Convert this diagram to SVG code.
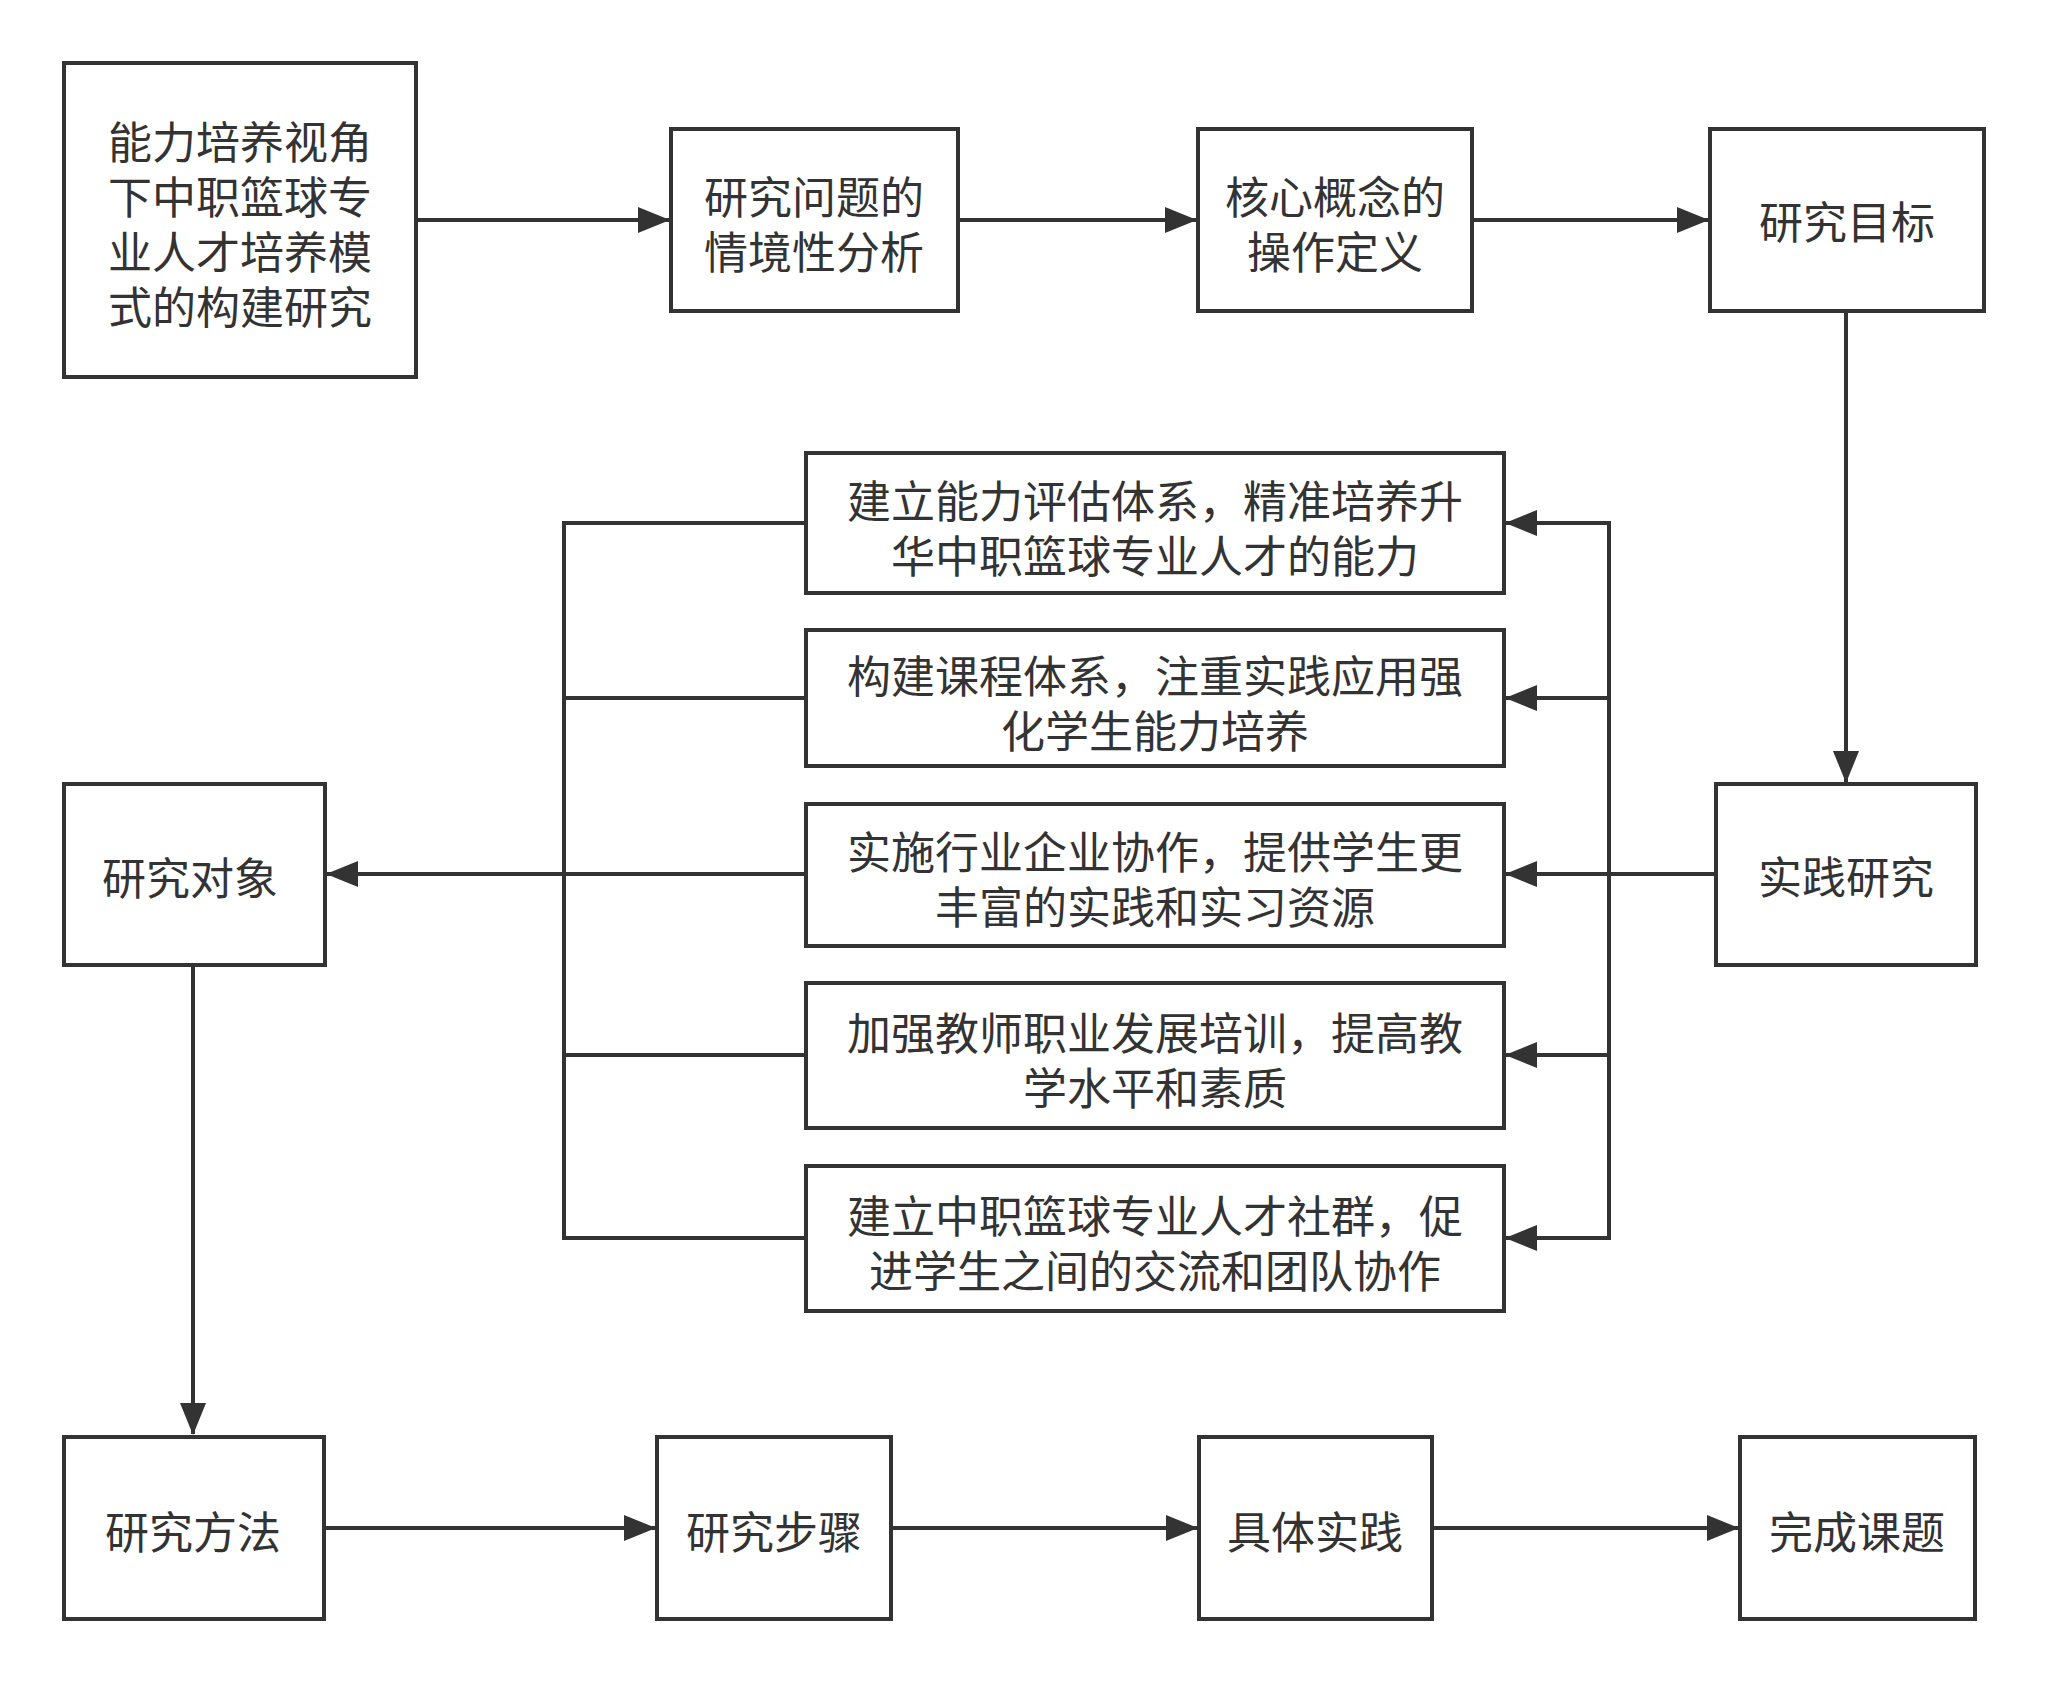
<svg xmlns="http://www.w3.org/2000/svg" width="2048" height="1683" viewBox="0 0 2048 1683">
<style>
.box{fill:#ffffff;stroke:#333333;stroke-width:4}
.t{font-family:"Liberation Sans","Noto Sans CJK SC",sans-serif;font-size:44px;fill:#333333;text-anchor:middle}
.c{fill:none;stroke:#333333;stroke-width:4;stroke-linejoin:miter}
.a{marker-end:url(#arr)}
</style>
<defs>
<marker id="arr" markerUnits="userSpaceOnUse" markerWidth="32" markerHeight="26" refX="31" refY="13" orient="auto">
<path d="M0,0 L32,13 L0,26 Z" fill="#333333"/>
</marker>
</defs>
<rect width="2048" height="1683" fill="#ffffff"/>
<g id="connectors">
<path class="c a" d="M416,220 H669"/>
<path class="c a" d="M958,220 H1196"/>
<path class="c a" d="M1472,220 H1708"/>
<path class="c a" d="M1846,312 V782"/>
<path class="c a" d="M1716,874 H1609 V523 H1506"/>
<path class="c a" d="M1716,874 H1609 V698 H1506"/>
<path class="c a" d="M1716,874 H1506"/>
<path class="c a" d="M1716,874 H1609 V1055 H1506"/>
<path class="c a" d="M1716,874 H1609 V1238 H1506"/>
<path class="c a" d="M806,523 H564 V874 H327"/>
<path class="c" d="M806,698 H564"/>
<path class="c" d="M806,874 H564"/>
<path class="c" d="M806,1055 H564"/>
<path class="c" d="M806,1238 H564 V523"/>
<path class="c a" d="M193,966 V1434"/>
<path class="c a" d="M324,1528 H655"/>
<path class="c a" d="M891,1528 H1197"/>
<path class="c a" d="M1432,1528 H1738"/>
</g>
<g id="n1"><rect class="box" x="64" y="63" width="352" height="314"/>
<text class="t" x="240" y="159">能力培养视角</text><text class="t" x="240" y="214">下中职篮球专</text><text class="t" x="240" y="269">业人才培养模</text><text class="t" x="240" y="324">式的构建研究</text></g>
<g id="n2"><rect class="box" x="671" y="129" width="287" height="182"/>
<text class="t" x="814" y="214">研究问题的</text><text class="t" x="814" y="269">情境性分析</text></g>
<g id="n3"><rect class="box" x="1198" y="129" width="274" height="182"/>
<text class="t" x="1335" y="214">核心概念的</text><text class="t" x="1335" y="269">操作定义</text></g>
<g id="n4"><rect class="box" x="1710" y="129" width="274" height="182"/>
<text class="t" x="1847" y="239">研究目标</text></g>
<g id="n5"><rect class="box" x="1716" y="784" width="260" height="181"/>
<text class="t" x="1846" y="894">实践研究</text></g>
<g id="nA"><rect class="box" x="806" y="453" width="698" height="140"/>
<text class="t" x="1155" y="518">建立能力评估体系，精准培养升</text><text class="t" x="1155" y="573">华中职篮球专业人才的能力</text></g>
<g id="nB"><rect class="box" x="806" y="630" width="698" height="136"/>
<text class="t" x="1155" y="693">构建课程体系，注重实践应用强</text><text class="t" x="1155" y="748">化学生能力培养</text></g>
<g id="nC"><rect class="box" x="806" y="804" width="698" height="142"/>
<text class="t" x="1155" y="869">实施行业企业协作，提供学生更</text><text class="t" x="1155" y="924">丰富的实践和实习资源</text></g>
<g id="nD"><rect class="box" x="806" y="983" width="698" height="145"/>
<text class="t" x="1155" y="1050">加强教师职业发展培训，提高教</text><text class="t" x="1155" y="1105">学水平和素质</text></g>
<g id="nE"><rect class="box" x="806" y="1166" width="698" height="145"/>
<text class="t" x="1155" y="1233">建立中职篮球专业人才社群，促</text><text class="t" x="1155" y="1288">进学生之间的交流和团队协作</text></g>
<g id="n6"><rect class="box" x="64" y="784" width="261" height="181"/>
<text class="t" x="190" y="895">研究对象</text></g>
<g id="n7"><rect class="box" x="64" y="1437" width="260" height="182"/>
<text class="t" x="193" y="1549">研究方法</text></g>
<g id="n8"><rect class="box" x="657" y="1437" width="234" height="182"/>
<text class="t" x="774" y="1549">研究步骤</text></g>
<g id="n9"><rect class="box" x="1199" y="1437" width="233" height="182"/>
<text class="t" x="1315" y="1549">具体实践</text></g>
<g id="n10"><rect class="box" x="1740" y="1437" width="235" height="182"/>
<text class="t" x="1857" y="1549">完成课题</text></g>
</svg>
